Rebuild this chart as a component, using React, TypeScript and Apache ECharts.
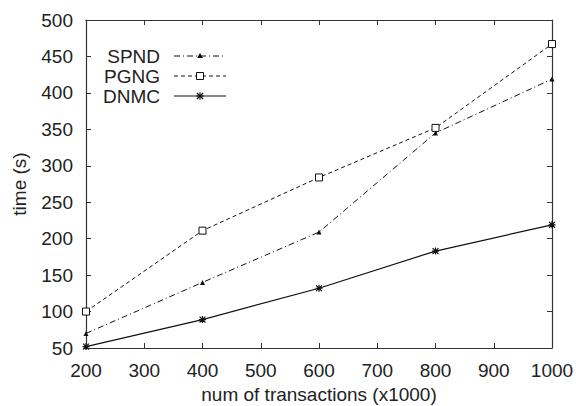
import React, { useEffect, useRef } from "react";
import * as echarts from "echarts";

// Number of transactions (thousands)
const transactions = [200, 400, 600, 800, 1000];
// Running time in seconds per method
const spnd = [70, 140, 209, 345, 419];
const pgng = [100, 211, 284, 352, 467];
const dnmc = [52, 89, 132, 183, 219];

const seriesNames = ["SPND", "PGNG", "DNMC"];

const FONT = "Liberation Sans, Arial, Helvetica, sans-serif";
const AXIS_COLOR = "#333";
const TEXT_COLOR = "#222";

// asterisk-shaped marker used for DNMC
const STAR = "path://M0,0L10,10M10,0L0,10M5,-1L5,11M-1,5L11,5";

const pair = (ys: number[]) => transactions.map((x, i) => [x, ys[i]]);

export default function App() {
  const ref = useRef<HTMLDivElement>(null);

  useEffect(() => {
    if (!ref.current) return;
    const chart = echarts.init(ref.current, undefined, { renderer: "svg" });

    const legendX0 = 174;
    const legendX1 = 226;
    const legendTextX = 160;
    const legendY = [56, 76, 96];
    const dashes: (number[] | null)[] = [[6, 3, 1, 3], [4, 3], null];

    const legendGraphics: any[] = [];
    seriesNames.forEach((name, i) => {
      const y = legendY[i];
      legendGraphics.push({
        type: "text",
        x: legendTextX,
        y,
        style: {
          text: name,
          fill: TEXT_COLOR,
          font: `19px ${FONT}`,
          align: "right",
          verticalAlign: "middle",
        },
      });
      legendGraphics.push({
        type: "line",
        shape: { x1: legendX0, y1: y, x2: legendX1, y2: y },
        style: {
          stroke: "#111",
          lineWidth: 1,
          lineDash: dashes[i] || undefined,
        },
      });
      const cx = (legendX0 + legendX1) / 2;
      if (i === 0) {
        legendGraphics.push({
          type: "polygon",
          shape: { points: [[cx, y - 3], [cx - 3, y + 2], [cx + 3, y + 2]] },
          style: { fill: "#111" },
        });
      } else if (i === 1) {
        legendGraphics.push({
          type: "rect",
          shape: { x: cx - 3.5, y: y - 3.5, width: 7, height: 7 },
          style: { fill: "#fff", stroke: "#111", lineWidth: 1 },
        });
      } else {
        legendGraphics.push(
          { type: "line", shape: { x1: cx - 3, y1: y - 3, x2: cx + 3, y2: y + 3 }, style: { stroke: "#111", lineWidth: 1.2 } },
          { type: "line", shape: { x1: cx - 3, y1: y + 3, x2: cx + 3, y2: y - 3 }, style: { stroke: "#111", lineWidth: 1.2 } },
          { type: "line", shape: { x1: cx, y1: y - 3.5, x2: cx, y2: y + 3.5 }, style: { stroke: "#111", lineWidth: 1.2 } },
          { type: "line", shape: { x1: cx - 3.5, y1: y, x2: cx + 3.5, y2: y }, style: { stroke: "#111", lineWidth: 1.2 } }
        );
      }
    });

    const axisCommon = {
      type: "value" as const,
      axisLine: { show: true, lineStyle: { color: AXIS_COLOR, width: 1.2 } },
      axisTick: { show: true, inside: true, length: 5, lineStyle: { color: AXIS_COLOR } },
      splitLine: { show: false },
    };

    const labelStyle = {
      fontFamily: FONT,
      fontSize: 19,
      color: TEXT_COLOR,
      formatter: (v: number) => String(v),
    };

    chart.setOption({
      animation: false,
      backgroundColor: "#fff",
      grid: {
        left: 86,
        right: 24,
        top: 20,
        bottom: 58,
        containLabel: false,
        outerBoundsMode: "none",
      },
      xAxis: [
        {
          ...axisCommon,
          position: "bottom",
          min: 200,
          max: 1000,
          interval: 100,
          name: "num of transactions (x1000)",
          nameLocation: "middle",
          nameGap: 36,
          nameTextStyle: { fontFamily: FONT, fontSize: 19, color: TEXT_COLOR },
          axisLabel: { ...labelStyle, margin: 13 },
        },
        {
          ...axisCommon,
          position: "top",
          min: 200,
          max: 1000,
          interval: 100,
          axisLabel: { show: false },
        },
      ],
      yAxis: [
        {
          ...axisCommon,
          position: "left",
          min: 50,
          max: 500,
          interval: 50,
          name: "time (s)",
          nameLocation: "middle",
          nameGap: 57,
          nameRotate: 90,
          nameTextStyle: { fontFamily: FONT, fontSize: 19, color: TEXT_COLOR },
          axisLabel: { ...labelStyle, margin: 13 },
        },
        {
          ...axisCommon,
          position: "right",
          min: 50,
          max: 500,
          interval: 50,
          axisLabel: { show: false },
        },
      ],
      series: [
        {
          name: "SPND",
          type: "line",
          data: pair(spnd),
          symbol: "triangle",
          symbolSize: 5,
          itemStyle: { color: "#111" },
          lineStyle: { color: "#111", width: 1, type: [6, 3, 1, 3] },
        },
        {
          name: "PGNG",
          type: "line",
          data: pair(pgng),
          symbol: "rect",
          symbolSize: 7,
          itemStyle: { color: "#fff", borderColor: "#111", borderWidth: 1 },
          lineStyle: { color: "#111", width: 1, type: [4, 3] },
        },
        {
          name: "DNMC",
          type: "line",
          data: pair(dnmc),
          symbol: STAR,
          symbolSize: 7,
          itemStyle: { color: "none", borderColor: "#111", borderWidth: 1.2 },
          lineStyle: { color: "#111", width: 1.2, type: "solid" },
        },
      ],
      graphic: legendGraphics,
    });

    return () => chart.dispose();
  }, []);

  return (
    <div
      ref={ref}
      style={{ position: "absolute", left: 0, top: 0, width: 576, height: 406 }}
    />
  );
}
